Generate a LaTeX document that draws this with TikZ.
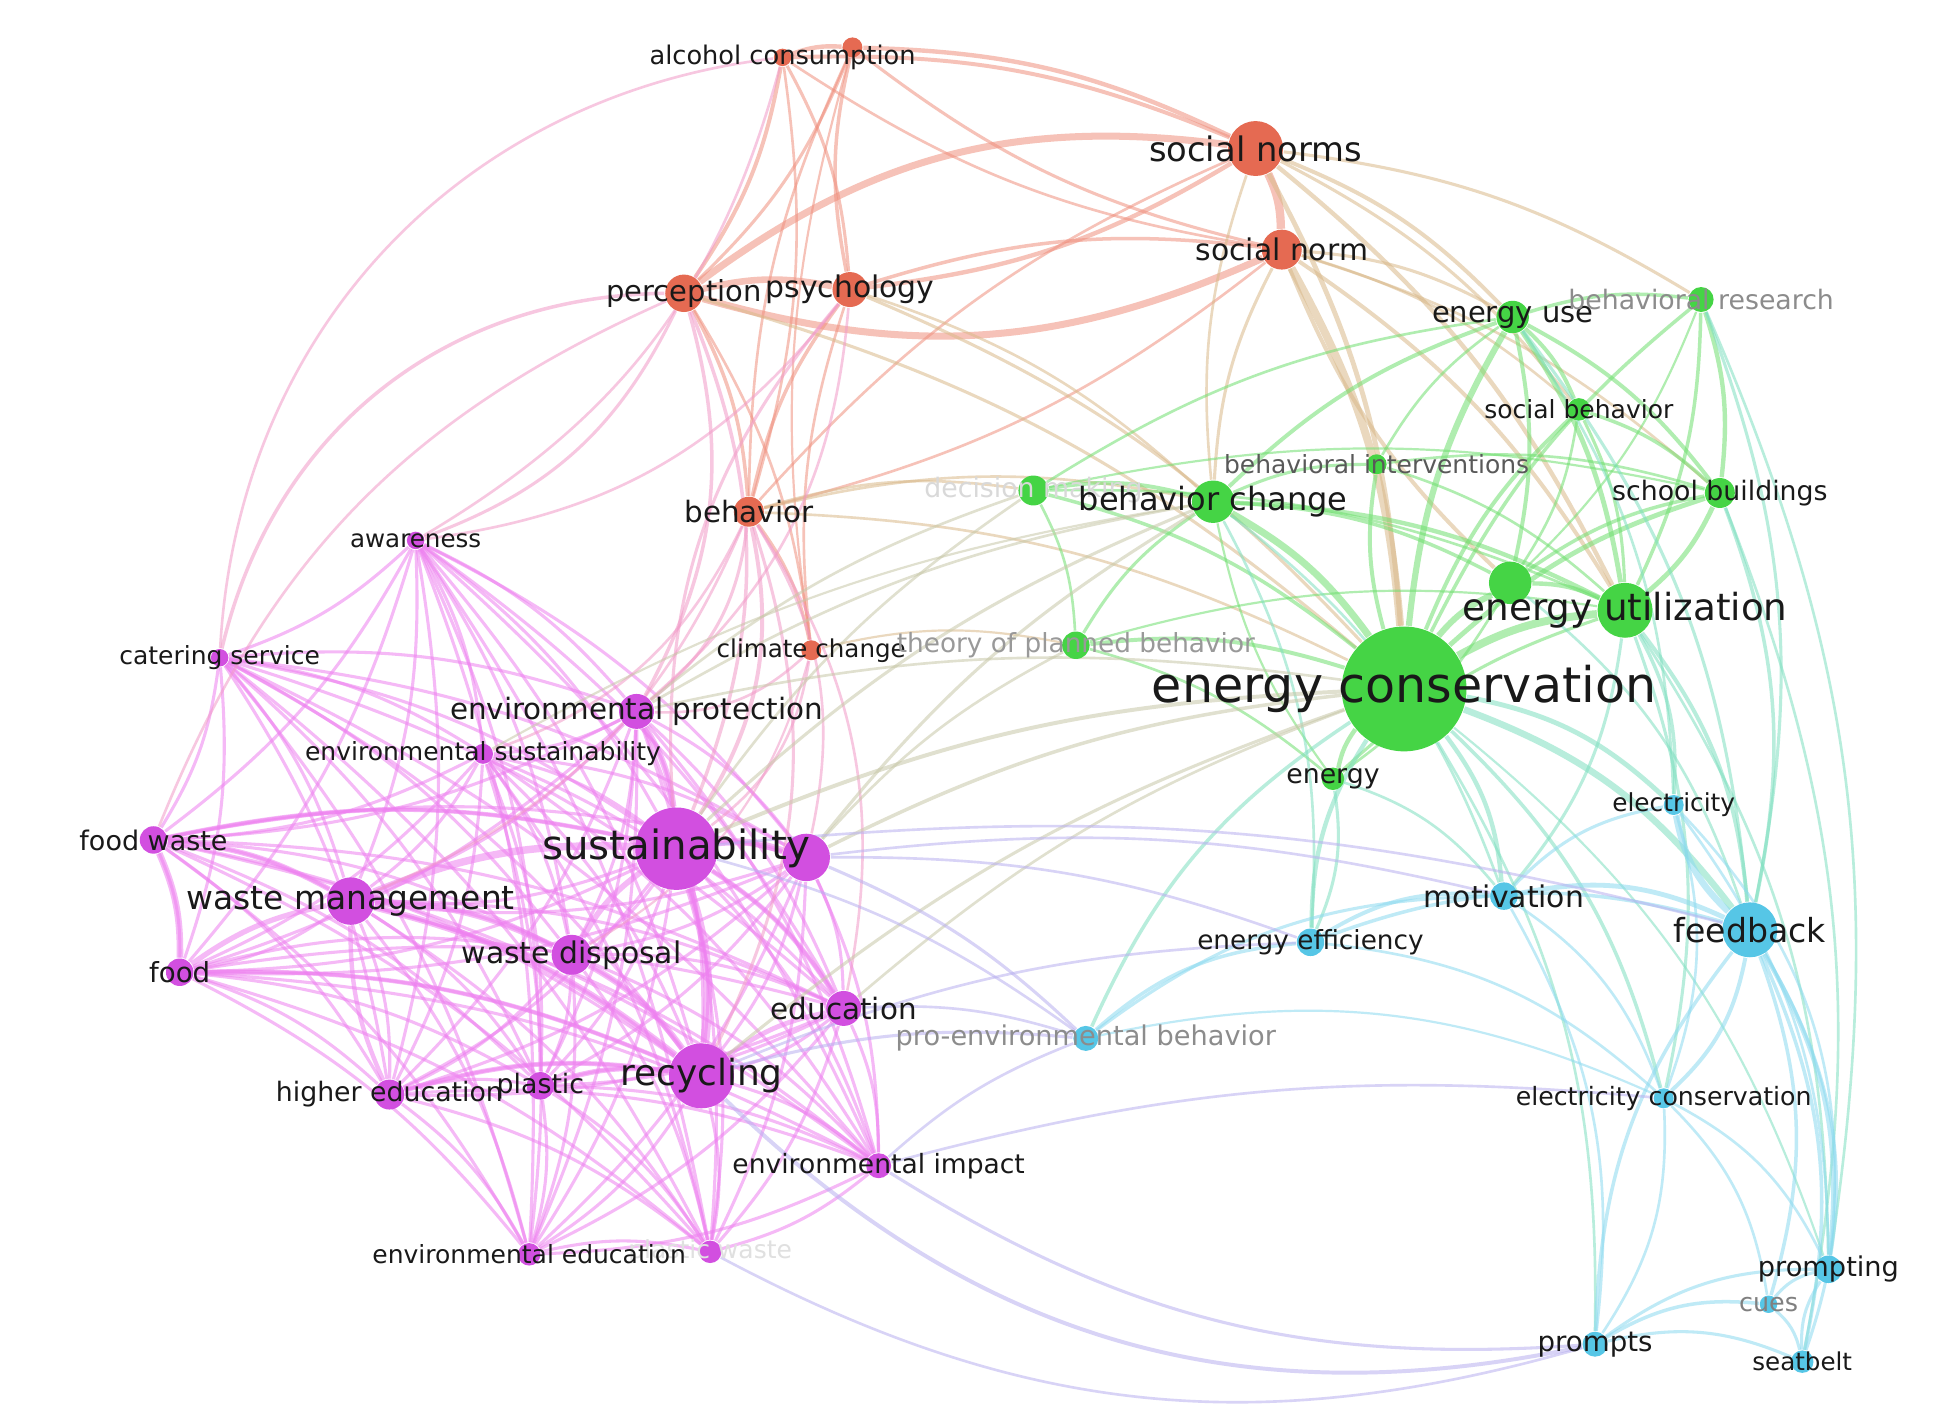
\documentclass[tikz,border=0pt]{standalone}
\usepackage{fontspec}
\setmainfont{DejaVu Sans}
\pgfdeclarelayer{bg}
\pgfsetlayers{bg,main}

\definecolor{nodeRed}{HTML}{E56A52}
\definecolor{nodeGreen}{HTML}{45D445}
\definecolor{nodeCyan}{HTML}{56C6E6}
\definecolor{nodePink}{HTML}{D24FE0}
\definecolor{edgeRed}{HTML}{F0907E}
\definecolor{edgeGreen}{HTML}{70E070}
\definecolor{edgeCyan}{HTML}{8CDAF0}
\definecolor{edgePink}{HTML}{EE80F0}
\definecolor{edgeTan}{HTML}{D9B98A}
\definecolor{edgeLilac}{HTML}{B8B0F0}
\definecolor{edgeMint}{HTML}{7EE0C0}
\definecolor{edgeOlive}{HTML}{C8C8A8}
\definecolor{edgeRose}{HTML}{F29AC8}

\tikzset{
  link/.style={draw=#1, line width=0.7pt, opacity=0.55},
  lbl/.style={inner sep=0pt, text=black!90}
}

\begin{document}
\begin{tikzpicture}[x=0.1mm, y=-0.1mm]
    \useasboundingbox (0,0) rectangle (1568,1131);
    % 关键词节点(名称/x/y/半径/颜色)
    \foreach \nm/\x/\y/\r/\c in {
        alc/627/46/7/nodeRed, alcb/683/38/8/nodeRed, snorms/1006/119/22/nodeRed,
        snorm/1027/200/16/nodeRed, perc/548/235/15/nodeRed, psy/681/232/14/nodeRed,
        beh/600/410/12/nodeRed, clim/650/521/8/nodeRed,
        euse/1212/254/13/nodeGreen, bres/1363/240/10/nodeGreen, sbeh/1265/328/9/nodeGreen,
        bint/1103/372/8/nodeGreen, school/1378/395/12/nodeGreen, dmak/828/393/12/nodeGreen,
        bchg/972/402/17/nodeGreen, eg/1210/467/17/nodeGreen, eutil/1302/489/22/nodeGreen,
        tpb/862/517/11/nodeGreen, econs/1125/552/50/nodeGreen, energy/1068/624/9/nodeGreen,
        elec/1341/645/8/nodeCyan, motiv/1205/718/11/nodeCyan, fback/1402/745/22/nodeCyan,
        eeff/1050/755/11/nodeCyan, proenv/870/832/10/nodeCyan, ecsv/1333/880/8/nodeCyan,
        prompting/1465/1017/11/nodeCyan, cues/1417/1045/7/nodeCyan, prompts/1278/1077/10/nodeCyan,
        seat/1444/1091/9/nodeCyan,
        aware/333/433/7/nodePink, cater/176/527/7/nodePink, eprot/510/570/14/nodePink,
        esust/387/604/8/nodePink, fwaste/123/673/11/nodePink, sust/542/680/33/nodePink,
        sustb/646/687/19/nodePink, wman/281/722/19/nodePink, food/144/779/11/nodePink,
        wdisp/458/765/16/nodePink, edu/676/808/14/nodePink, hedu/312/877/12/nodePink,
        plastic/433/870/11/nodePink, recyc/562/862/26/nodePink, eimp/704/934/10/nodePink,
        eedu/424/1005/9/nodePink, pwaste/569/1003/9/nodePink} {
        \node[circle, fill=\c, inner sep=0pt, minimum size=\r*0.2mm] (\nm) at (\x,\y) {};
    }
    \begin{pgfonlayer}{bg}
    \fill[white] (0,0) rectangle (1568,1131);
    % 红色聚类内部连线
    \foreach \a/\b/\w in {
        snorms/snorm/1.9, snorms/psy/1.0, psy/snorm/0.8,
        perc/psy/1.5, alc/perc/0.9, alcb/perc/0.7, alc/psy/0.7, psy/alcb/0.8, alc/alcb/1.0,
        alc/snorms/0.9, alcb/snorms/1.0, snorm/alc/0.6, snorm/alcb/0.7, perc/beh/0.8,
        beh/psy/0.8, beh/clim/0.7, perc/clim/0.6, clim/psy/0.6, alc/beh/0.6, beh/alcb/0.6,
        beh/snorms/0.6, snorm/beh/0.6, clim/alcb/0.5} {
        \draw[link=edgeRed, line width=\w pt] (\a) to[bend left=12] (\b);
    }
    \draw[link=edgeRed, line width=1.6pt] (perc) to[bend left=22] (snorms);
    \draw[link=edgeRed, line width=1.6pt] (snorm) to[bend left=20] (perc);
    % 红-绿之间
    \foreach \a/\b/\w in {
        snorms/euse/0.9, snorms/eutil/1.0, snorms/econs/1.1, snorm/econs/1.8, snorm/eutil/0.9,
        snorm/euse/0.7, snorms/bres/0.7, bchg/snorm/0.7, bchg/snorms/0.6, eg/snorm/0.9,
        psy/bchg/0.6, beh/bchg/0.6, beh/dmak/0.6, beh/econs/0.6, perc/econs/0.7,
        psy/econs/0.7, snorm/school/0.6, snorms/sbeh/0.7, clim/tpb/0.5, snorm/sbeh/0.6} {
        \draw[link=edgeTan, line width=\w pt] (\a) to[bend left=12] (\b);
    }
    % 绿色聚类内部连线
    \foreach \a/\b/\w in {
        econs/euse/1.4, econs/bres/0.8, econs/sbeh/0.9, econs/bint/0.9, econs/school/1.1,
        dmak/econs/0.8, bchg/econs/1.6, econs/eg/1.4, econs/eutil/1.8, tpb/econs/0.9,
        energy/econs/1.0, euse/sbeh/0.9, euse/bres/0.8, euse/school/0.9, euse/eutil/1.1,
        euse/eg/0.9, bres/school/1.0, bres/eutil/0.8, sbeh/school/0.8, sbeh/eutil/0.7,
        sbeh/eg/0.6, school/eutil/1.1, eg/school/0.8, eg/eutil/1.0, dmak/bchg/0.9,
        bchg/euse/0.9, bchg/eutil/1.0, tpb/bchg/0.7, bchg/eg/0.8, bchg/bint/0.7,
        bint/euse/0.6, bint/eutil/0.6, dmak/tpb/0.6, dmak/euse/0.6, tpb/energy/0.6,
        energy/eutil/0.7, eg/energy/0.6, dmak/eutil/0.6, bint/school/0.6, tpb/eutil/0.5,
        bres/eg/0.5, dmak/school/0.5, energy/bchg/0.5} {
        \draw[link=edgeGreen, line width=\w pt] (\a) to[bend left=12] (\b);
    }
    % 绿-蓝之间
    \foreach \a/\b/\w in {
        econs/elec/1.1, econs/motiv/1.0, econs/fback/1.5, eeff/econs/1.0, proenv/econs/0.8,
        econs/ecsv/0.8, eutil/fback/0.9, eutil/elec/0.8, school/fback/0.8, bres/fback/0.7,
        eutil/ecsv/0.7, energy/eeff/0.7, energy/motiv/0.6, econs/prompts/0.6, eutil/motiv/0.7,
        bchg/eeff/0.6, bchg/motiv/0.6, euse/fback/0.7, bres/prompting/0.6, school/seat/0.6,
        eutil/prompting/0.6, euse/elec/0.6, eg/fback/0.6, econs/prompting/0.5} {
        \draw[link=edgeMint, line width=\w pt] (\a) to[bend left=16] (\b);
    }
    % 蓝色聚类内部连线
    \foreach \a/\b/\w in {
        fback/elec/1.5, motiv/fback/1.1, fback/ecsv/0.9, fback/prompting/1.0, fback/cues/0.8,
        prompts/fback/0.8, fback/seat/0.8, eeff/fback/0.8, eeff/motiv/0.9, motiv/elec/0.7,
        proenv/motiv/0.7, proenv/eeff/0.8, prompts/cues/0.8, prompts/prompting/0.7,
        prompts/seat/0.7, cues/prompting/0.7, cues/seat/0.7, seat/prompting/0.7,
        ecsv/prompts/0.6, ecsv/prompting/0.6, ecsv/cues/0.6, elec/ecsv/0.6, motiv/ecsv/0.6,
        motiv/prompts/0.6, elec/prompting/0.6, eeff/ecsv/0.6, proenv/ecsv/0.5} {
        \draw[link=edgeCyan, line width=\w pt] (\a) to[bend left=18] (\b);
    }
    % 紫色聚类内部连线(全连接)
    \foreach \a [count=\i] in {aware,cater,eprot,esust,fwaste,sust,sustb,wman,food,wdisp,edu,hedu,plastic,recyc,eimp,eedu,pwaste} {
        \foreach \b [count=\j] in {aware,cater,eprot,esust,fwaste,sust,sustb,wman,food,wdisp,edu,hedu,plastic,recyc,eimp,eedu,pwaste} {
            \ifnum\j>\i
                \draw[link=edgePink] (\a) to[bend left=12] (\b);
            \fi
        }
    }
    \foreach \a/\b/\w in {
        sust/recyc/2.0, wman/recyc/1.5, wman/sust/1.7, wman/wdisp/1.4, wdisp/recyc/1.4,
        fwaste/food/1.5, fwaste/wman/1.2, food/wman/1.2, eprot/sust/1.4, hedu/recyc/1.1,
        plastic/recyc/1.2, sust/sustb/1.6, recyc/edu/1.1, sust/edu/1.1, wdisp/sust/1.3,
        food/recyc/1.0, fwaste/sust/1.0, hedu/wman/1.0} {
        \draw[link=edgePink, line width=\w pt] (\a) to[bend left=12] (\b);
    }
    % 红-紫之间
    \foreach \a/\b/\w in {
        aware/perc/0.7, aware/psy/0.6, aware/alc/0.6,
        eprot/perc/0.8, eprot/beh/0.7, eprot/psy/0.6, sust/beh/0.9, sust/perc/0.8,
        psy/sust/0.7, sust/clim/0.6, sustb/beh/0.6, recyc/beh/0.7, edu/beh/0.6,
        esust/beh/0.6, wman/beh/0.6, eprot/clim/0.6, wdisp/clim/0.5, perc/fwaste/0.6} {
        \draw[link=edgeRose, line width=\w pt] (\a) to[bend right=22] (\b);
    }
    \draw[link=edgeRose, line width=0.8pt] (perc) to[bend right=38] (cater);
    \draw[link=edgeRose, line width=0.6pt] (alc) to[bend right=40] (cater);
    % 紫-绿、紫-蓝之间
    \foreach \a/\b/\w in {
        sust/econs/0.9, sustb/econs/0.8, sustb/bchg/0.7, sust/bchg/0.7, eprot/bchg/0.6,
        eprot/econs/0.6, sustb/tpb/0.6, edu/econs/0.6, recyc/econs/0.7, sust/dmak/0.6,
        esust/bchg/0.5, eprot/dmak/0.6} {
        \draw[link=edgeOlive, line width=\w pt] (\a) to[bend left=10] (\b);
    }
    \foreach \a/\b/\w in {
        recyc/proenv/0.7, sust/proenv/0.6, sustb/proenv/0.7, sustb/eeff/0.6, eimp/ecsv/0.6,
        sustb/motiv/0.6, edu/proenv/0.6, recyc/eeff/0.6, sust/fback/0.6, eimp/proenv/0.6} {
        \draw[link=edgeLilac, line width=\w pt] (\a) to[bend left=10] (\b);
    }
    \draw[link=edgeLilac, line width=0.9pt] (recyc) to[bend right=28] (prompts);
    \draw[link=edgeLilac, line width=0.7pt] (eimp) to[bend right=18] (prompts);
    \draw[link=edgeLilac, line width=0.6pt] (pwaste) to[bend right=22] (prompts);
    \draw[link=edgeCyan, line width=0.7pt] (fback) to[bend left=25] (seat);
    \draw[link=edgeCyan, line width=0.6pt] (elec) to[bend left=25] (prompting);
    \end{pgfonlayer}
    % 标签(名称/字号/文字/颜色)
    \foreach \nm/\fs/\txt/\col in {
        alc/5.85/alcohol consumption/black!90, snorms/7.7/social norms/black!90,
        snorm/6.8/social norm/black!90, perc/6.6/perception/black!90,
        psy/6.8/psychology/black!90, beh/6.7/behavior/black!90,
        clim/5.6/climate change/black!90,
        euse/6.6/energy use/black!90, bres/6.1/behavioral research/black!45,
        sbeh/5.7/social behavior/black!90, bint/5.7/behavioral interventions/black!65,
        school/6.1/school buildings/black!90, dmak/6.1/decision making/black!15,
        bchg/7.3/behavior change/black!90, eutil/8.5/energy utilization/black!90,
        tpb/6.0/theory of planned behavior/black!40, econs/11.2/energy conservation/black!90,
        energy/6.1/energy/black!90,
        elec/5.65/electricity/black!90, motiv/6.8/motivation/black!90,
        fback/7.55/feedback/black!90, eeff/6.0/energy efficiency/black!90,
        proenv/6.2/pro-environmental behavior/black!45, ecsv/5.75/electricity conservation/black!90,
        prompting/6.2/prompting/black!90, cues/5.8/cues/black!50,
        prompts/6.3/prompts/black!90, seat/5.6/seatbelt/black!90,
        aware/5.6/awareness/black!90, cater/5.7/catering service/black!90,
        eprot/6.7/environmental protection/black!90, esust/5.7/environmental sustainability/black!90,
        fwaste/6.15/food waste/black!90, sust/9.2/sustainability/black!90,
        wman/7.5/waste management/black!90, food/6.3/food/black!90,
        wdisp/6.8/waste disposal/black!90, edu/6.7/education/black!90,
        hedu/6.1/higher education/black!90, plastic/6.1/plastic/black!90,
        recyc/8.2/recycling/black!90, eimp/6.05/environmental impact/black!90,
        pwaste/5.7/plastic waste/black!12, eedu/5.7/environmental education/black!90} {
        \node[lbl, text=\col, font=\fontsize{\fs}{\fs}\selectfont] (t-\nm) at (\nm) {\txt};
    }
\end{tikzpicture}
\end{document}
